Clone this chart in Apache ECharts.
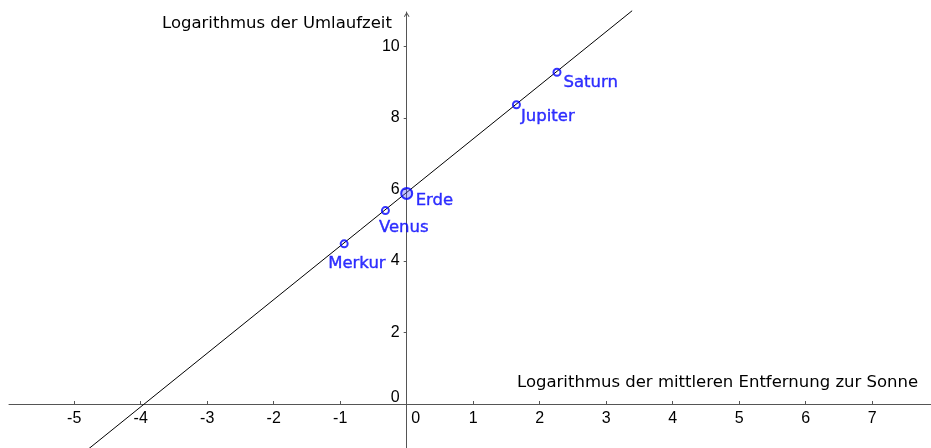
<!DOCTYPE html>
<html>
<head>
<meta charset="utf-8">
<script src="https://cdn.jsdelivr.net/npm/echarts@6/dist/echarts.min.js"></script>
<style>html,body{margin:0;padding:0;background:#fff}#c{width:931px;height:448px}</style>
</head>
<body>
<div id="c"></div>
<script>
// ---- data ----
var planetNames = ['Merkur', 'Venus', 'Erde', 'Jupiter', 'Saturn'];
var logDistance = [-0.94, -0.32, 0.0, 1.65, 2.26];
var logPeriod = [4.48, 5.41, 5.89, 8.37, 9.28];
var lineX = [-4.8, 3.39];
var lineY = [-1.28, 11.0];
var xTickValues = [-5, -4, -3, -2, -1, 0, 1, 2, 3, 4, 5, 6, 7];
var yTickValues = [0, 2, 4, 6, 8, 10];
var xTitle = 'Logarithmus der mittleren Entfernung zur Sonne';
var yTitle = 'Logarithmus der Umlaufzeit';

// ---- styles (not data) ----
var labelOffsets = {
  'Merkur': [-16, 20],
  'Venus': [-6.5, 17],
  'Erde': [9, 7],
  'Jupiter': [4.5, 12],
  'Saturn': [6.5, 10]
};
var TXT = '"DejaVu Sans", sans-serif';
var NUM = '"Liberation Sans", Arial, sans-serif';
var AX = '#555';

var pts = planetNames.map(function (n, i) {
  var isEarth = n === 'Erde';
  return {
    name: n,
    value: [logDistance[i], logPeriod[i]],
    symbolSize: isEarth ? 11 : 7,
    itemStyle: isEarth ? { color: 'rgba(90,90,255,0.45)', borderColor: '#0000ff', borderWidth: 2 } : undefined,
    label: { offset: labelOffsets[n] }
  };
});

var chart = echarts.init(document.getElementById('c'), null, { renderer: 'canvas' });
chart.setOption({
  animation: false,
  backgroundColor: '#fff',
  title: [
    { text: yTitle, left: 162, top: 14, padding: 0,
      textStyle: { fontFamily: TXT, fontSize: 16.5, fontWeight: 'normal', color: '#000', lineHeight: 20 } },
    { text: xTitle, left: 517, top: 373, padding: 0,
      textStyle: { fontFamily: TXT, fontSize: 16.5, fontWeight: 'normal', color: '#000', lineHeight: 20 } }
  ],
  grid: { left: 9, right: 0, top: 12, bottom: 0, containLabel: false, outerBoundsMode: 'none' },
  xAxis: {
    type: 'value', min: -5.98, max: 7.884, position: 'bottom', offset: -44,
    axisLine: { onZero: false, lineStyle: { color: AX, width: 1 } },
    axisTick: { show: true, inside: true, length: 3, lineStyle: { color: AX }, customValues: xTickValues },
    axisLabel: {
      customValues: xTickValues, margin: 7, color: '#000', fontFamily: NUM, fontSize: 16,
      formatter: function (v) { return v === 0 ? '{z|0}' : String(v); },
      rich: { z: { padding: [0, 0, 0, 18], fontFamily: NUM, fontSize: 16, color: '#000' } }
    },
    splitLine: { show: false }
  },
  yAxis: {
    type: 'value', min: -1.231, max: 10.965, position: 'left', offset: -397.7,
    axisLine: { onZero: false, lineStyle: { color: AX, width: 1 },
      symbol: ['none', 'path://M0,8 L5,0 L10,8 L8.5,8.9 L5,3.2 L1.5,8.9 Z'], symbolSize: [8, 5], symbolOffset: [0, -2.5] },
    axisTick: { show: true, inside: false, length: 3, lineStyle: { color: AX }, customValues: yTickValues },
    axisLabel: {
      customValues: yTickValues, margin: 7, color: '#000', fontFamily: NUM, fontSize: 16,
      formatter: function (v) { return v === 0 ? '{z|0}' : String(v); },
      rich: { z: { padding: [0, 0, 13, 0], fontFamily: NUM, fontSize: 16, color: '#000' } }
    },
    splitLine: { show: false }
  },
  series: [
    {
      type: 'line', clip: false, symbol: 'none', silent: true,
      data: lineX.map(function (x, i) { return [x, lineY[i]]; }),
      lineStyle: { color: '#000', width: 1 }
    },
    {
      type: 'scatter', symbol: 'circle', symbolSize: 7, z: 5,
      itemStyle: { color: 'rgba(255,255,255,0)', borderColor: '#0000ff', borderWidth: 2 },
      label: {
        show: true, position: 'inside', align: 'left', verticalAlign: 'middle',
        formatter: '{b}', color: '#0000ff', fontFamily: TXT, fontSize: 16.5,
        textBorderColor: '#0000ff', textBorderWidth: 0.4
      },
      data: pts
    }
  ]
});
</script>
</body>
</html>
